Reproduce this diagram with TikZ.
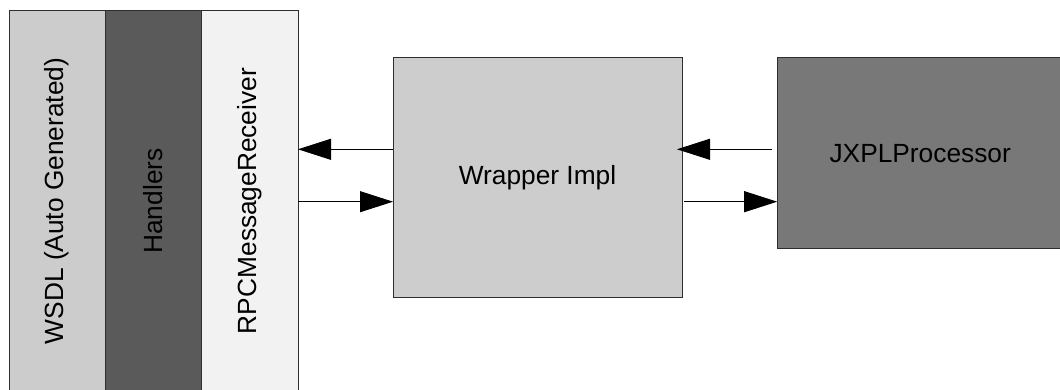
\documentclass[tikz,border=0pt]{standalone}
\usepackage{fontspec}
\setmainfont{Liberation Sans}
\usetikzlibrary{arrows.meta}
\definecolor{wsdlgray}{HTML}{CCCCCC}
\definecolor{handlergray}{HTML}{5A5A5A}
\definecolor{rpcgray}{HTML}{F2F2F2}
\definecolor{wrapgray}{HTML}{CDCDCD}
\definecolor{procgray}{HTML}{787878}
\definecolor{edgegray}{HTML}{2E2E2E}
\begin{document}
\begin{tikzpicture}[x=1pt,y=1pt,
  block/.style={draw=edgegray, line width=0.9pt, inner sep=0pt, outer sep=0pt,
    font=\fontsize{26.3}{31}\selectfont, text=black},
  layer/.style={block, minimum width=96pt, minimum height=382pt},
  link/.style={line width=0.9pt, -{Triangle[length=33pt,width=21pt]}}
]
\useasboundingbox (0,0) rectangle (1060,390);
% protocol stack on the left
\node[layer, fill=wsdlgray]    (wsdl)     at (57,189)    {\rotatebox{90}{WSDL (Auto Generated)}};
\node[layer, fill=handlergray] (handlers) at (153,189)   {\rotatebox{90}{Handlers}};
\node[layer, fill=rpcgray, minimum width=97pt] (rpc) at (249.5,189) {\rotatebox{90}{RPCMessageReceiver}};
% wrapper and processor
\node[block, fill=wrapgray, minimum width=289pt, minimum height=240pt] (wrapper) at (537.5,212.7) {Wrapper Impl};
\node[block, fill=procgray, minimum width=286pt, minimum height=191.3pt] (proc) at (920.2,236.7) {JXPLProcessor};
% message rows
\coordinate (hi) at (0,240.7);
\coordinate (lo) at (0,188.3);
\draw[link] (wrapper.west |- hi) -- (rpc.east |- hi);
\draw[link] (rpc.east |- lo) -- (wrapper.west |- lo);
\draw[link, shorten <=5.5pt, shorten >=-5pt] (proc.west |- hi) -- (wrapper.east |- hi);
\draw[link, shorten <=2pt] (wrapper.east |- lo) -- (proc.west |- lo);
\end{tikzpicture}
\end{document}
